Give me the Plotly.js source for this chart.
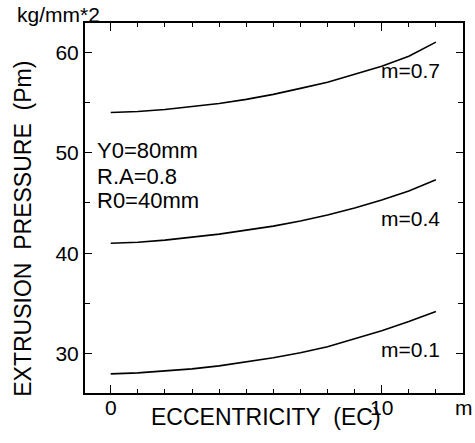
<!DOCTYPE html>
<html><head><meta charset="utf-8">
<script src="https://cdn.plot.ly/plotly-3.0.1.min.js"></script>
<style>body{margin:0;background:#fff}#chart{width:475px;height:443px}</style>
</head><body><div id="chart"></div>
<script>
const ecc = [0,1,2,3,4,5,6,7,8,9,10,11,12];
const pm_m01 = [28.0,28.1,28.3,28.5,28.8,29.2,29.6,30.1,30.7,31.5,32.3,33.2,34.2];
const pm_m04 = [41.0,41.1,41.3,41.6,41.9,42.3,42.7,43.2,43.8,44.5,45.3,46.2,47.3];
const pm_m07 = [54.0,54.1,54.3,54.6,54.9,55.3,55.8,56.4,57.0,57.8,58.6,59.6,61.0];
const seriesNames = ["m=0.1","m=0.4","m=0.7"];
const paramLines = ["Y0=80mm","R.A=0.8","R0=40mm"];
const xTitle = "ECCENTRICITY  (EC)";
const yTitle = "EXTRUSION  PRESSURE  (Pm)";

const FONT = "Liberation Sans, Arial, sans-serif";
function curve(ys, nm){
  return {x:ecc, y:ys, mode:"lines", line:{color:"#000", width:1.6}, name:nm};
}
const traces = [curve(pm_m01, seriesNames[0]), curve(pm_m04, seriesNames[1]), curve(pm_m07, seriesNames[2])];
const layout = {
  width:475, height:443,
  margin:{l:85, r:12, t:23, b:50},
  showlegend:false,
  font:{family:FONT, size:21, color:"#000"},
  xaxis:{range:[-0.95,13.0], dtick:10, tick0:0, ticks:"inside", ticklen:8, tickcolor:"#000",
         minor:{dtick:1, ticks:"inside", ticklen:4, tickcolor:"#000"},
         showline:true, linewidth:2, linecolor:"#000", mirror:"allticks",
         showgrid:false, zeroline:false, automargin:false, ticklabelstandoff:-5},
  yaxis:{range:[26.1,62.9], dtick:10, tick0:0, ticks:"inside", ticklen:7, tickcolor:"#000",
         minor:{dtick:5, ticks:"inside", ticklen:5, tickcolor:"#000"},
         showline:true, linewidth:2, linecolor:"#000", mirror:"allticks",
         showgrid:false, zeroline:false, automargin:false},
  annotations:[
    {xref:"paper", yref:"paper", x:-0.185, y:1.0, xanchor:"left", yanchor:"bottom", yshift:-5,
     text:"kg/mm*2", showarrow:false},
    {xref:"paper", yref:"paper", x:1.0317, y:0, xanchor:"right", yanchor:"top", yshift:-1,
     text:"m", showarrow:false},
    {xref:"paper", yref:"paper", x:0.48, y:0, xanchor:"center", yanchor:"middle", yshift:-24,
     text:xTitle, showarrow:false, font:{size:23}},
    {xref:"paper", yref:"paper", x:-0.165, y:0.443, xanchor:"center", yanchor:"middle", textangle:-90,
     text:yTitle, showarrow:false, font:{size:23}},
    {xref:"x", yref:"y", x:9.9, y:58.2, xanchor:"left", yanchor:"middle", text:seriesNames[2], showarrow:false},
    {xref:"x", yref:"y", x:9.9, y:43.5, xanchor:"left", yanchor:"middle", text:seriesNames[1], showarrow:false},
    {xref:"x", yref:"y", x:9.9, y:30.4, xanchor:"left", yanchor:"middle", text:seriesNames[0], showarrow:false},
    {xref:"paper", yref:"y", x:0.026, y:50.2, xanchor:"left", yanchor:"middle", text:paramLines[0], showarrow:false, font:{size:22}},
    {xref:"paper", yref:"y", x:0.026, y:47.6, xanchor:"left", yanchor:"middle", text:paramLines[1], showarrow:false, font:{size:22}},
    {xref:"paper", yref:"y", x:0.026, y:45.2, xanchor:"left", yanchor:"middle", text:paramLines[2], showarrow:false, font:{size:22}}
  ]
};
Plotly.newPlot("chart", traces, layout, {displayModeBar:false, staticPlot:true});
</script></body></html>
